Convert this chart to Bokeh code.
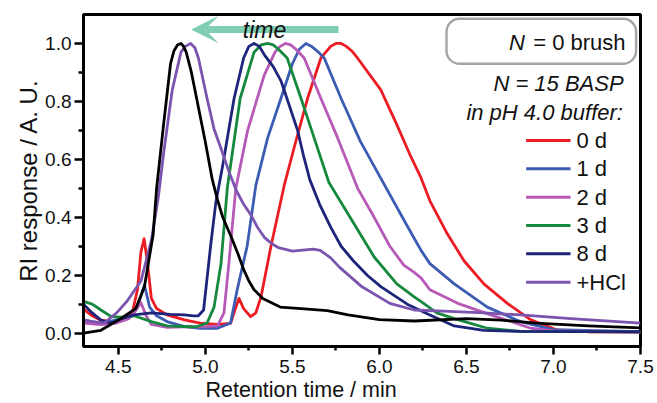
from bokeh.plotting import figure
from bokeh.models import (FixedTicker, PrintfTickFormatter, Label, BoxAnnotation,
                          Arrow, VeeHead, Range1d, Title)
from bokeh.embed import file_html
from bokeh.resources import INLINE

FONT = "Liberation Sans"

# ---- data ----
t_brush = [4.30, 4.40, 4.50, 4.60, 4.65, 4.70, 4.72, 4.76, 4.80, 4.82, 4.84, 4.86, 4.875, 4.89, 4.92, 4.95,
           4.975, 5.00, 5.04, 5.07, 5.10, 5.15, 5.19, 5.22, 5.25, 5.28, 5.33, 5.38, 5.43, 5.55, 5.70, 5.82,
           6.00, 6.20, 6.50, 6.70, 6.90, 7.20, 7.50]
y_brush = [0.00, 0.01, 0.045, 0.085, 0.16, 0.34, 0.50, 0.72, 0.93, 0.975, 0.995, 1.00, 0.99, 0.97, 0.90, 0.81,
           0.735, 0.66, 0.53, 0.46, 0.40, 0.33, 0.27, 0.22, 0.18, 0.15, 0.12, 0.105, 0.09, 0.085, 0.078, 0.063,
           0.047, 0.042, 0.05, 0.045, 0.035, 0.025, 0.018]

t_0d = [4.30, 4.35, 4.40, 4.46, 4.52, 4.58, 4.61, 4.63, 4.648, 4.666, 4.69, 4.72, 4.78, 4.88, 4.97, 5.07,
        5.145, 5.17, 5.193, 5.22, 5.26, 5.29, 5.32, 5.377, 5.453, 5.51, 5.587, 5.664, 5.72, 5.75, 5.78, 5.81,
        5.84, 5.874, 6.008, 6.10, 6.18, 6.24, 6.29, 6.39, 6.486, 6.60, 6.735, 6.87, 7.02, 7.20, 7.50]
y_0d = [0.083, 0.06, 0.045, 0.04, 0.05, 0.07, 0.15, 0.28, 0.326, 0.25, 0.12, 0.085, 0.063, 0.046, 0.035, 0.03,
        0.034, 0.08, 0.12, 0.085, 0.057, 0.07, 0.126, 0.30, 0.51, 0.64, 0.81, 0.95, 0.99, 1.00, 1.00, 0.99,
        0.975, 0.95, 0.84, 0.72, 0.61, 0.535, 0.457, 0.343, 0.25, 0.17, 0.103, 0.046, 0.011, 0.005, 0.004]

t_1d = [4.30, 4.40, 4.49, 4.58, 4.61, 4.65, 4.68, 4.72, 4.78, 4.88, 4.97, 5.07, 5.145, 5.183, 5.24, 5.29,
        5.358, 5.434, 5.50, 5.54, 5.578, 5.61, 5.65, 5.683, 5.78, 5.89, 6.04, 6.16, 6.24, 6.29, 6.43, 6.62,
        6.81, 7.00, 7.50]
y_1d = [0.046, 0.034, 0.046, 0.06, 0.09, 0.166, 0.09, 0.06, 0.04, 0.023, 0.017, 0.017, 0.035, 0.15, 0.30, 0.51,
        0.674, 0.81, 0.93, 0.98, 1.00, 0.99, 0.97, 0.95, 0.81, 0.663, 0.50, 0.37, 0.285, 0.24, 0.17, 0.09,
        0.04, 0.012, 0.005]

t_2d = [4.30, 4.40, 4.49, 4.56, 4.59, 4.63, 4.66, 4.69, 4.78, 4.88, 4.97, 5.07, 5.107, 5.135, 5.175, 5.243,
        5.338, 5.40, 5.43, 5.46, 5.49, 5.52, 5.568, 5.664, 5.76, 5.875, 5.97, 6.06, 6.14, 6.20, 6.24, 6.29,
        6.45, 6.64, 6.87, 7.00, 7.50]
y_2d = [0.035, 0.03, 0.035, 0.05, 0.07, 0.105, 0.06, 0.03, 0.02, 0.022, 0.022, 0.025, 0.07, 0.24, 0.50, 0.70,
        0.89, 0.97, 0.99, 1.00, 0.995, 0.98, 0.95, 0.81, 0.674, 0.50, 0.40, 0.30, 0.235, 0.21, 0.19, 0.15,
        0.103, 0.063, 0.017, 0.008, 0.005]

t_3d = [4.30, 4.35, 4.40, 4.46, 4.52, 4.59, 4.69, 4.78, 4.88, 4.95, 5.01, 5.05, 5.09, 5.126, 5.20, 5.28,
        5.32, 5.358, 5.39, 5.42, 5.47, 5.55, 5.625, 5.71, 5.855, 5.97, 6.10, 6.20, 6.26, 6.33, 6.43, 6.62,
        6.81, 7.50]
y_3d = [0.11, 0.10, 0.08, 0.057, 0.055, 0.06, 0.04, 0.025, 0.023, 0.022, 0.035, 0.09, 0.24, 0.50, 0.81, 0.97,
        0.995, 1.00, 0.995, 0.98, 0.95, 0.81, 0.674, 0.52, 0.377, 0.263, 0.17, 0.125, 0.10, 0.07, 0.05, 0.017,
        0.006, 0.005]

t_8d = [4.30, 4.35, 4.40, 4.46, 4.52, 4.59, 4.69, 4.80, 4.88, 4.93, 4.96, 4.99, 5.03, 5.06, 5.10, 5.165,
        5.22, 5.25, 5.28, 5.31, 5.34, 5.39, 5.435, 5.48, 5.53, 5.565, 5.60, 5.66, 5.72, 5.78, 5.85, 5.93,
        6.01, 6.16, 6.29, 6.43, 6.60, 6.81, 7.50]
y_8d = [0.10, 0.07, 0.045, 0.035, 0.05, 0.063, 0.07, 0.065, 0.063, 0.06, 0.06, 0.08, 0.30, 0.45, 0.58, 0.81,
        0.95, 0.99, 1.00, 0.99, 0.96, 0.92, 0.87, 0.79, 0.70, 0.61, 0.53, 0.44, 0.366, 0.30, 0.25, 0.20,
        0.16, 0.10, 0.063, 0.025, 0.01, 0.006, 0.005]

t_hcl = [4.30, 4.35, 4.42, 4.49, 4.55, 4.63, 4.69, 4.73, 4.76, 4.81, 4.86, 4.885, 4.915, 4.94, 4.96, 5.01,
         5.05, 5.10, 5.14, 5.18, 5.22, 5.26, 5.30, 5.34, 5.38, 5.42, 5.50, 5.62, 5.66, 5.72, 5.77, 5.90,
         6.06, 6.20, 6.40, 6.60, 6.81, 7.10, 7.50]
y_hcl = [0.045, 0.04, 0.035, 0.07, 0.11, 0.18, 0.32, 0.47, 0.62, 0.84, 0.97, 0.99, 1.00, 0.985, 0.95, 0.81,
         0.705, 0.62, 0.55, 0.49, 0.445, 0.41, 0.365, 0.33, 0.31, 0.295, 0.283, 0.29, 0.286, 0.26, 0.228, 0.16,
         0.103, 0.08, 0.075, 0.07, 0.063, 0.05, 0.035]

series_labels = ["0 d", "1 d", "2 d", "3 d", "8 d", "+HCl"]
series_colors = ["#ec1c24", "#3b5cb2", "#b659b7", "#15893d", "#1d2479", "#7b54b0"]
series_t = [t_0d, t_1d, t_2d, t_3d, t_8d, t_hcl]
series_y = [y_0d, y_1d, y_2d, y_3d, y_8d, y_hcl]

x_major = [4.5, 5.0, 5.5, 6.0, 6.5, 7.0, 7.5]
x_minor = [4.75, 5.25, 5.75, 6.25, 6.75, 7.25]
y_major = [0.0, 0.2, 0.4, 0.6, 0.8, 1.0]
y_minor = [0.1, 0.3, 0.5, 0.7, 0.9]

# ---- figure ----
p = figure(frame_width=557, frame_height=332, min_border_left=83, min_border_right=17,
           min_border_top=14, min_border_bottom=57, output_backend="svg", toolbar_location=None,
           x_range=Range1d(4.3, 7.5), y_range=Range1d(-0.046, 1.1))
p.xgrid.visible = False
p.ygrid.visible = False
p.outline_line_color = "black"
p.outline_line_width = 3
p.background_fill_color = "white"
p.border_fill_color = "white"

p.xaxis.ticker = FixedTicker(ticks=x_major, minor_ticks=x_minor)
p.yaxis.ticker = FixedTicker(ticks=y_major, minor_ticks=y_minor)
for ax in (p.xaxis, p.yaxis):
    ax.formatter = PrintfTickFormatter(format="%.1f")
    ax.axis_line_width = 3
    ax.axis_line_color = "black"
    ax.major_tick_line_width = 2.5
    ax.minor_tick_line_width = 2.5
    ax.major_tick_in = 0
    ax.minor_tick_in = 0
    ax.major_label_text_font = FONT
    ax.major_label_text_font_size = "19px"
    ax.major_label_text_color = "#111111"
p.xaxis.major_tick_out = 8
p.xaxis.minor_tick_out = 4
p.yaxis.major_tick_out = 9
p.yaxis.minor_tick_out = 5
p.xaxis.major_label_standoff = 5
p.yaxis.major_label_standoff = 3

for t, y, c in zip(series_t, series_y, series_colors):
    p.line(t, y, line_color=c, line_width=2.8, line_join="round")
p.line(t_brush, y_brush, line_color="black", line_width=2.8, line_join="round")

# axis titles
p.add_layout(Title(text="Retention time / min", align="left", offset=122, standoff=0,
                   text_font=FONT, text_font_size="21.5px", text_font_style="normal",
                   text_color="#111111"), "below")
p.add_layout(Title(text="RI response / A. U.", align="center", offset=-8, standoff=2,
                   text_font=FONT, text_font_size="24px", text_font_style="normal",
                   text_color="#111111"), "left")

# time arrow
arrow_color = "#80cfb2"
p.add_layout(Arrow(x_start=5.765, y_start=1.048, x_end=5.0, y_end=1.048,
                   line_color=arrow_color, line_width=7, end=None))
p.add_layout(Arrow(x_start=5.1, y_start=1.048, x_end=4.924, y_end=1.048, line_alpha=0,
                   end=VeeHead(size=25, fill_color=arrow_color, line_color=arrow_color)))
p.add_layout(Label(x=5.340, y=1.048, text="time", text_font=FONT, text_font_size="23px",
                   text_font_style="italic", text_align="center", text_baseline="middle",
                   text_color="#111111"))

# legend (manual)
p.add_layout(BoxAnnotation(left=6.3855, right=7.4747, top=1.0852, bottom=0.9298,
                           fill_color="white", fill_alpha=1.0, line_color="#a5a5a5",
                           line_width=2.4, line_alpha=1.0, border_radius=13))
p.segment(x0=[6.437], y0=[1.0044], x1=[6.686], y1=[1.0044], line_color="black", line_width=2.8)
p.add_layout(Label(x=6.745, y=1.0044, text="N", text_font=FONT, text_font_size="22px",
                   text_font_style="italic", text_align="left", text_baseline="middle", text_color="#111111"))
p.add_layout(Label(x=7.414, y=1.0044, text="= 0 brush", text_font=FONT, text_font_size="22px",
                   text_align="right", text_baseline="middle", text_color="#111111"))
p.add_layout(Label(x=7.403, y=0.8608, text="N = 15 BASP", text_font=FONT, text_font_size="22px",
                   text_font_style="italic", text_align="right", text_baseline="middle", text_color="#111111"))
p.add_layout(Label(x=7.399, y=0.7628, text="in pH 4.0 buffer:", text_font=FONT, text_font_size="22px",
                   text_font_style="italic", text_align="right", text_baseline="middle", text_color="#111111"))

entry_y = [0.665, 0.5672, 0.4692, 0.3717, 0.2740, 0.1762]
for lab, c, ey in zip(series_labels, series_colors, entry_y):
    p.segment(x0=[6.843], y0=[ey], x1=[7.098], y1=[ey], line_color=c, line_width=3)
    p.add_layout(Label(x=7.132, y=ey, text=lab, text_font=FONT, text_font_size="22px",
                       text_align="left", text_baseline="middle", text_color="#111111"))

open("out.html", "w").write(file_html(p, INLINE))
